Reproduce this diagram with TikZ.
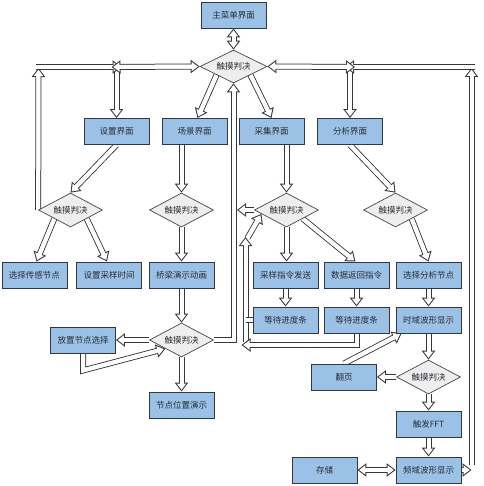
\documentclass[tikz,border=0pt]{standalone}
\usepackage{fontspec}
\newfontfamily\cjk{Noto Sans CJK SC}
\usetikzlibrary{shapes.geometric,arrows.meta,calc}
\pgfdeclarelayer{bg}
\pgfsetlayers{bg,main}
\definecolor{boxfill}{RGB}{155,194,230}
\definecolor{boxedge}{RGB}{50,56,66}
\definecolor{diafill}{RGB}{238,238,238}
\definecolor{diaedge}{RGB}{70,70,70}
\definecolor{arredge}{RGB}{55,55,55}
\definecolor{txt}{RGB}{40,44,52}
\tikzset{
  box/.style={draw=boxedge, fill=boxfill, line width=0.9pt, minimum width=65pt, minimum height=26pt, inner sep=0pt, font=\cjk\fontsize{8.5}{10}\selectfont, text=txt},
  dia/.style={diamond, aspect=2, draw=diaedge, fill=diafill, line width=0.7pt, minimum width=64pt, minimum height=34pt, inner sep=0pt, font=\cjk\fontsize{8.5}{10}\selectfont, text=txt},
  barr/.style={
    preaction={draw=arredge, line width=6pt, line join=miter, shorten >=0pt, shorten <=0pt, -{Triangle[length=9pt,width=13pt]}},
    draw=white, line width=4pt, line join=miter, shorten >=6.5pt, shorten <=0pt, -,
    postaction={draw=white, line width=4pt, line join=miter, shorten >=1.7pt, shorten <=0pt, -{Triangle[length=6.3pt,width=9.1pt]}}
  },
  dbarr/.style={
    preaction={draw=arredge, line width=6pt, shorten >=0pt, shorten <=0pt, {Triangle[length=9pt,width=13pt]}-{Triangle[length=9pt,width=13pt]}},
    draw=white, line width=4pt, shorten >=6.5pt, shorten <=6.5pt, -,
    postaction={draw=white, line width=4pt, shorten >=1.7pt, shorten <=1.7pt, {Triangle[length=6.3pt,width=9.1pt]}-{Triangle[length=6.3pt,width=9.1pt]}}
  },
  shaft/.style={preaction={draw=arredge, line width=6pt}, draw=white, line width=4pt}
}
\begin{document}
\begin{tikzpicture}[x=1pt,y=-1pt]
\useasboundingbox (0,0) rectangle (483,486);
% nodes
\node[box] (main) at (233.5,15) {主菜单界面};
\node[dia, minimum width=67pt, minimum height=33pt] (topD) at (233.5,66.5) {触摸判决};
\node[box] (setI) at (116.5,131.5) {设置界面};
\node[box] (sceneI) at (194.5,131.5) {场景界面};
\node[box] (colI) at (271.5,131.5) {采集界面};
\node[box] (anaI) at (350,131.5) {分析界面};
\node[dia] (setD) at (70.5,210) {触摸判决};
\node[dia] (sD) at (181.5,210) {触摸判决};
\node[dia] (cD) at (286.5,210) {触摸判决};
\node[dia] (aD) at (395.5,210) {触摸判决};
\node[box] (b1) at (34.5,275) {选择传感节点};
\node[box] (b2) at (109,275) {设置采样时间};
\node[box] (bridge) at (181.5,275) {桥梁演示动画};
\node[box] (send) at (285.5,275) {采样指令发送};
\node[box] (data) at (356.5,275) {数据返回指令};
\node[box] (selA) at (428.5,275) {选择分析节点};
\node[box] (wL) at (285.5,320) {等待进度条};
\node[box] (wR) at (356.5,320) {等待进度条};
\node[box] (timeD) at (428.5,320) {时域波形显示};
\node[box] (place) at (83,340) {放置节点选择};
\node[dia] (sD2) at (181.5,340) {触摸判决};
\node[box] (demo) at (181.5,405) {节点位置演示};
\node[box] (flip) at (344,377) {翻页};
\node[dia] (aD2) at (428.5,377) {触摸判决};
\node[box] (fft) at (428.5,424) {触发FFT};
\node[box] (store) at (324.5,470) {存储};
\node[box] (freq) at (428.5,470) {频域波形显示};
% helper coordinates
\coordinate (XL) at (116.5,67);
\coordinate (XR) at (350,67);
\coordinate (TL) at (38.5,67);
\coordinate (TR) at (471.5,67);
\coordinate (BR) at (471.5,470);
\coordinate (CL) at (237,210);
\coordinate (LB) at (245.5,345);
\coordinate (LT) at (245.5,237);
\begin{pgfonlayer}{bg}
\fill[white] (0,0) rectangle (483,486);
\draw[dbarr] (main.south) -- (topD.north);
% left loop
\draw[barr] (setD.west) -- ([yshift=-1pt]TL);
\draw[barr] (XL |- 0,70) -- (setI.north);
\draw[barr] ([xshift=-3pt]TL) -- ([xshift=5pt]XL);
\draw[dbarr] (topD.west) -- ([xshift=-5pt]XL);
% right loop
\draw[barr] ([yshift=5pt]BR) -- ([yshift=-1pt]TR);
\draw[barr] (XR |- 0,70) -- (anaI.north);
\draw[barr] ([xshift=3pt]TR) -- ([xshift=-5pt]XR);
\draw[dbarr] (topD.east) -- ([xshift=5pt]XR);
\draw[barr] (freq.east) -- (BR);
% from top diamond
\draw[barr] (topD.south west) -- ([xshift=3pt]sceneI.north);
\draw[barr] (topD.south east) -- (colI.north);
% setting column
\draw[barr] (setI.south) -- (setD.north);
\draw[barr] (setD.south west) -- ([xshift=2pt]b1.north);
\draw[barr] (setD.south east) -- ([xshift=-2pt]b2.north);
% scene column
\draw[barr] (sceneI.south -| sD.north) -- (sD.north);
\draw[barr] (sD.south) -- (bridge.north);
\draw[barr] (bridge.south) -- (sD2.north);
\draw[barr] (sD2.west) -- (place.east);
\draw[barr] (place.south) -- ++(0,17) -- (sD2.south west);
\draw[barr] (sD2.south) -- (demo.north);
\draw[barr] (sD2.east) -| (topD.south);
% collection column
\draw[barr] (colI.south -| cD.north) -- (cD.north);
\draw[barr] (cD.south) -- (cD.south |- send.north);
\draw[barr] (cD.south east) -- ([xshift=-1pt]data.north);
\draw[barr] (cD.west) -- (CL);
\draw[barr] (send.south) -- (wL.north);
\draw[barr] (data.south) -- (wR.north);
\draw[barr] ([yshift=3pt]LB) -- (LT);
\draw[shaft] (wL.west) -- (LB |- wL.west);
\draw[barr] (wR.south) |- ([xshift=-4pt]LB);
\draw[barr] ([xshift=2pt,yshift=-1pt]LT) -- ($(cD.west)!0.45!(cD.south west)$);
% analysis column
\draw[barr] (anaI.south) -- (aD.north);
\draw[barr] (aD.south east) -- (selA.north);
\draw[barr] (selA.south) -- (timeD.north);
\draw[barr] (timeD.south) -- (aD2.north);
\draw[barr] (aD2.west) -- (flip.east);
\draw[barr] (flip.north) -- ([xshift=6pt]timeD.south west);
\draw[barr] (aD2.south) -- (fft.north);
\draw[barr] (fft.south) -- (freq.north);
\draw[dbarr] (store.east) -- (freq.west);
\end{pgfonlayer}
\end{tikzpicture}
\end{document}
